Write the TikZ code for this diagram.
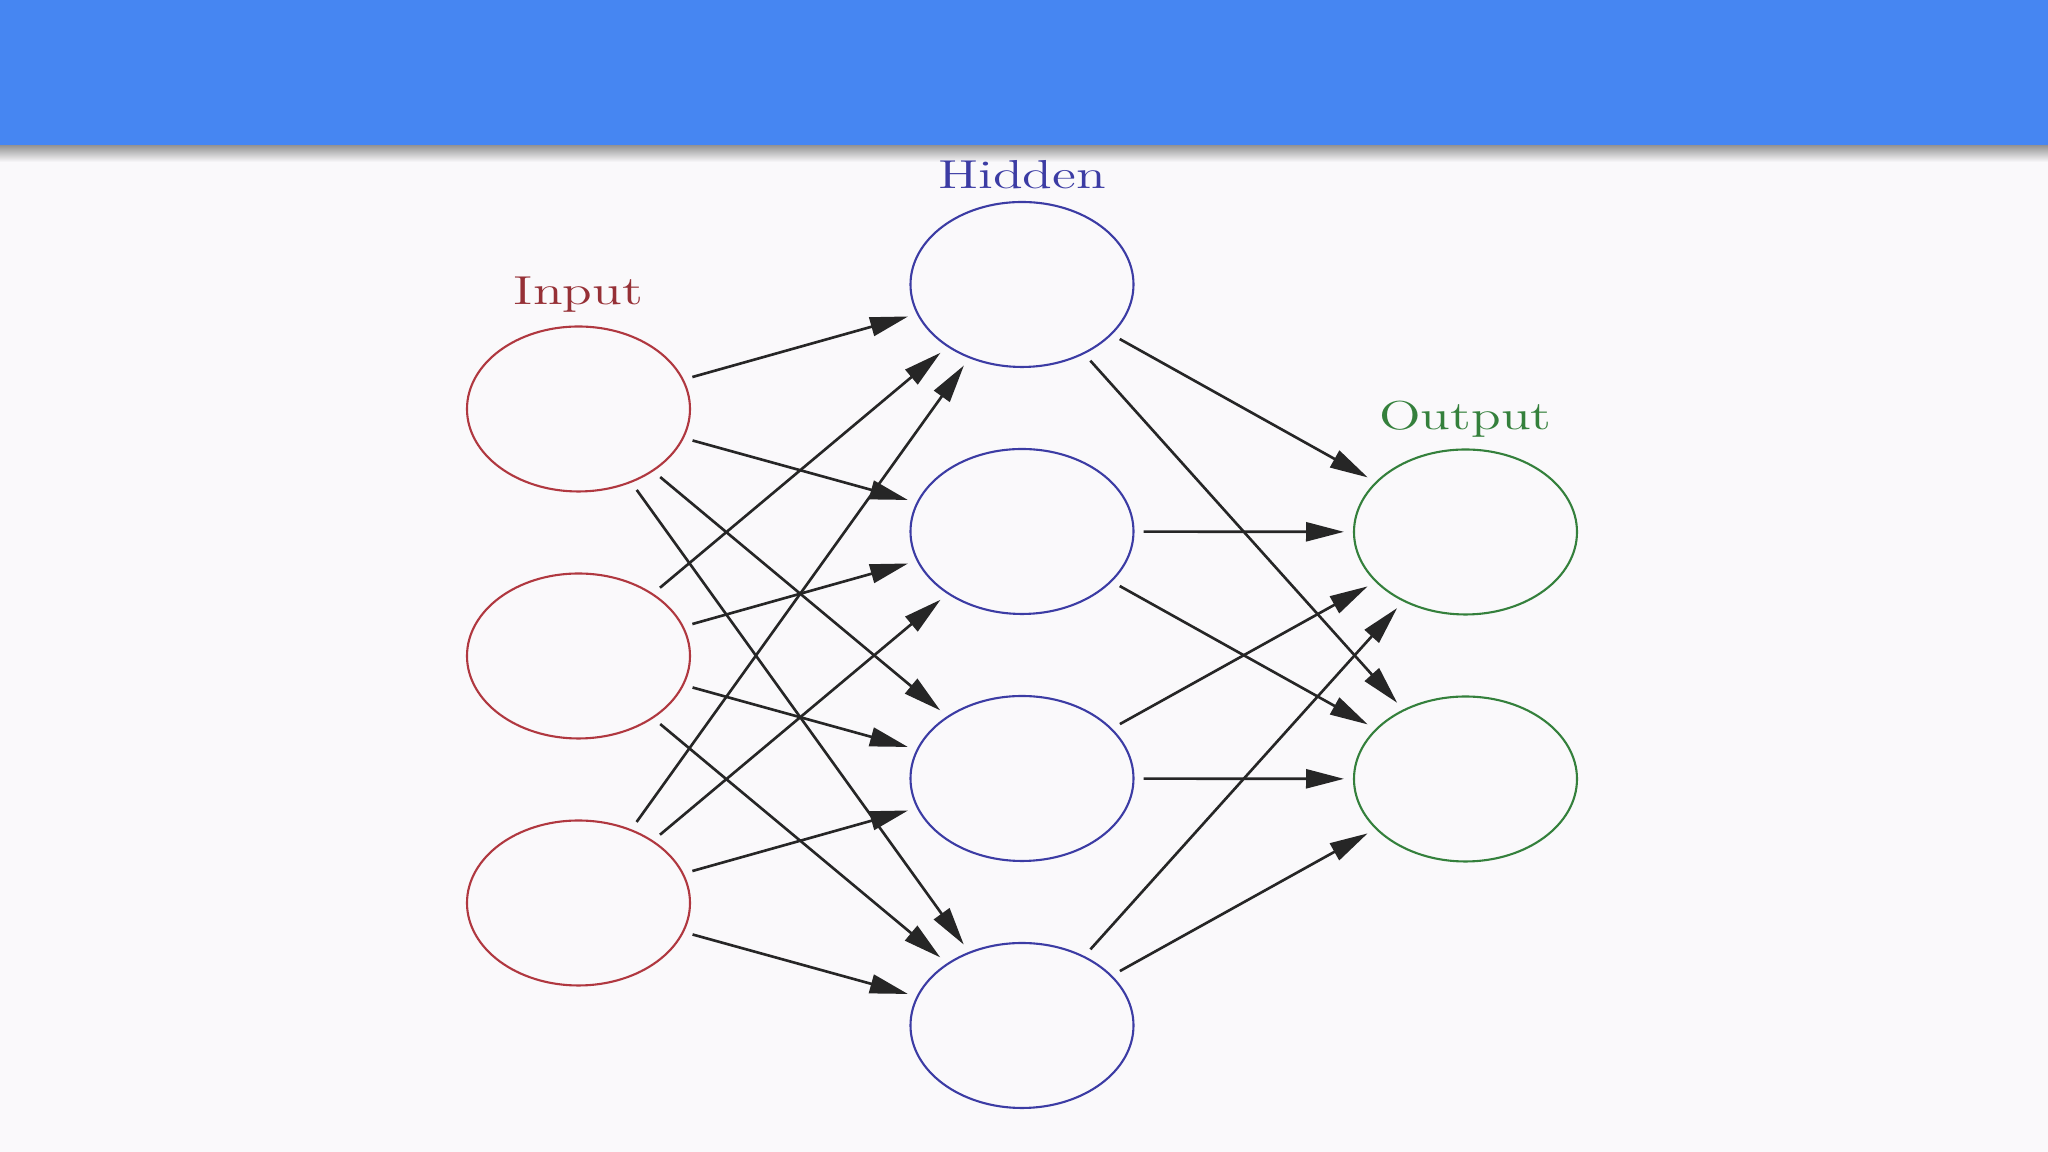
\documentclass[tikz,border=0pt]{standalone}
\usepackage{tikz}
\usetikzlibrary{arrows.meta,positioning,shapes.geometric}
\usepackage{xcolor}
\definecolor{barblue}{RGB}{70,134,242}
\definecolor{pagebg}{RGB}{250,249,251}
\definecolor{inred}{RGB}{176,56,64}
\definecolor{hidblue}{RGB}{60,60,164}
\definecolor{outgreen}{RGB}{52,128,60}
\tikzset{
  neuron/.style={draw, ellipse, minimum width=2.23cm, minimum height=1.65cm,
                 inner sep=0pt, outer sep=0pt, line width=0.6pt},
  inp/.style={neuron, draw=inred},
  hid/.style={neuron, draw=hidblue},
  outp/.style={neuron, draw=outgreen},
  layer/.style={inner sep=0pt, text depth=0pt, xscale=1.35,
                font=\fontsize{11.5}{14}\selectfont},
  wire/.style={-{Triangle[length=3.8mm, width=1.9mm]}, line width=0.75pt, black!85,
               shorten <=0.1cm, shorten >=0.1cm},
}

\begin{document}
\begin{tikzpicture}
  \useasboundingbox (0,0) rectangle (20.48,11.52);
  \fill[pagebg] (0,0) rectangle (20.48,11.52);
  \shade[top color=black!45, bottom color=pagebg] (0,9.90) rectangle (20.48,10.08);
  \fill[barblue] (0,10.07) rectangle (20.48,11.52);

  % layers
  \node[inp] (in1) at (5.785,7.43) {};
  \node[inp, below=0.82cm of in1] (in2) {};
  \node[inp, below=0.82cm of in2] (in3) {};

  \node[hid] (hid1) at (10.22,8.675) {};
  \node[hid, below=0.82cm of hid1] (hid2) {};
  \node[hid, below=0.82cm of hid2] (hid3) {};
  \node[hid, below=0.82cm of hid3] (hid4) {};

  \node[outp] (out1) at (14.655,6.20) {};
  \node[outp, below=0.82cm of out1] (out2) {};

  \node[layer, text=inred!85!black, above=0.21cm of in1] (inlbl) {Input};
  \node[layer, text=hidblue, above=0.125cm of hid1] (hidlbl) {Hidden};
  \node[layer, text=outgreen, above=0.19cm of out1] (outlbl) {Output};

  % connections
  \foreach \i in {1,2,3}
    \foreach \j in {1,...,4}
      \draw[wire] (in\i) -- (hid\j);
  \foreach \j in {1,...,4}
    \foreach \k in {1,2}
      \draw[wire] (hid\j) -- (out\k);
\end{tikzpicture}
\end{document}
